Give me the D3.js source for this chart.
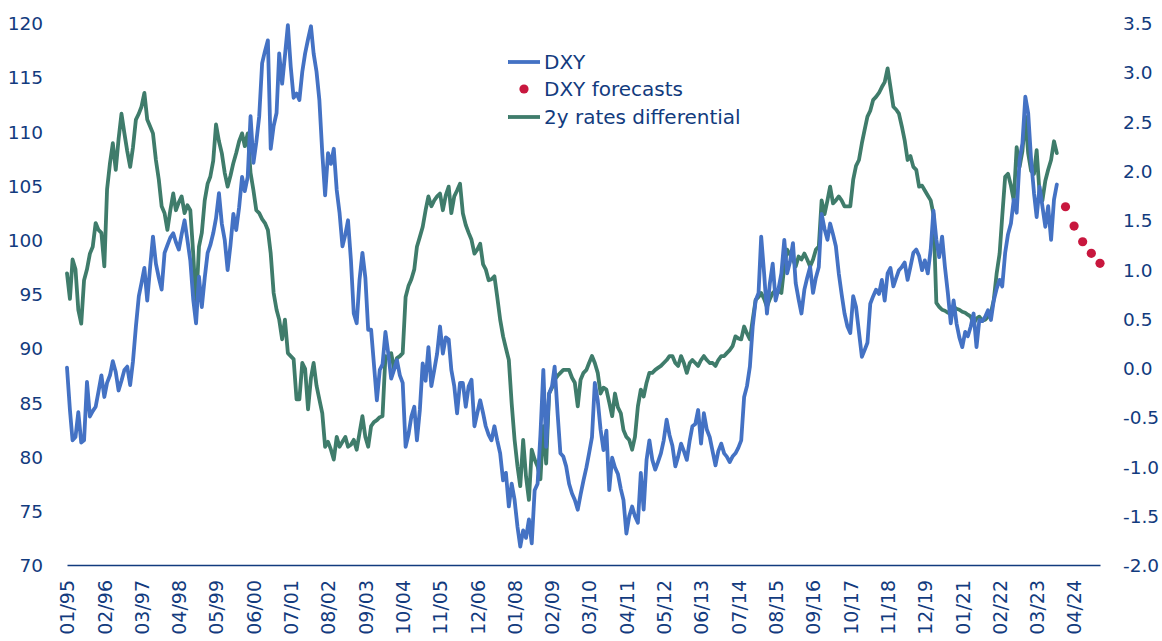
<!DOCTYPE html>
<html>
<head>
<meta charset="utf-8">
<script src="https://cdn.jsdelivr.net/npm/d3@7"></script>
<style>
  html, body { margin: 0; padding: 0; background: #ffffff; }
  svg { display: block; }
  text { font-family: "DejaVu Sans", sans-serif; fill: #123B7E; }
</style>
</head>
<body>
<svg id="chart" width="1162" height="641"></svg>
<script>
// ---- Data (monthly, starting Jan 1995) ----
const startYear = 1995;
const dxy = [
  88.2,84.3,81.5,81.8,84.1,81.3,81.5,86.9,83.7,84.2,84.6,86.0,
  87.5,85.5,86.8,87.5,88.8,87.8,86.1,87.0,88.0,88.3,86.6,88.8,
  92.0,94.8,96.0,97.4,94.4,97.5,100.3,97.8,96.5,95.4,98.8,99.5,
  100.2,100.6,99.8,99.1,100.5,101.8,100.0,98.1,94.5,92.3,96.6,93.8,
  96.5,98.8,99.5,100.6,102.0,104.3,101.5,100.0,97.2,99.5,102.4,100.9,
  103.0,105.8,104.5,105.8,111.4,107.1,109.0,111.4,116.3,117.4,118.4,108.4,
  110.5,111.7,117.2,114.4,117.0,119.8,116.0,113.1,113.5,112.9,115.5,117.2,
  118.5,119.7,117.2,115.5,112.9,108.0,104.1,108.0,107.0,108.4,104.6,102.5,
  99.4,100.5,101.8,98.1,93.2,92.3,96.3,98.8,96.5,91.7,91.7,88.5,
  85.2,88.0,88.5,91.5,89.5,87.2,88.0,88.9,87.5,86.8,80.9,82.0,
  83.7,84.6,81.5,84.3,88.6,87.0,90.1,86.5,88.0,89.5,92.0,89.5,
  91.0,90.8,88.0,86.5,84.0,86.8,86.8,84.6,86.5,87.1,82.8,84.0,
  85.2,84.0,82.8,82.0,81.5,82.8,81.5,80.3,77.8,78.5,75.4,77.5,
  76.0,73.5,71.7,73.2,72.5,74.2,72.0,76.9,77.5,82.0,88.0,80.9,
  85.8,86.5,88.3,84.0,80.3,80.0,79.1,77.5,76.6,76.0,75.1,76.5,
  77.8,79.0,80.3,81.8,86.8,85.2,82.5,80.6,82.4,76.9,79.9,79.0,
  78.4,77.0,76.0,72.9,74.5,75.4,74.5,73.9,78.5,75.1,79.7,81.5,
  79.7,78.8,79.5,80.3,81.5,83.4,82.0,81.0,79.1,80.0,81.2,80.5,
  79.7,81.5,82.8,83.0,84.3,81.2,84.0,82.5,81.8,80.5,79.2,80.5,
  81.2,80.3,80.0,79.5,80.0,80.3,80.8,81.5,85.5,86.5,88.3,92.0,
  94.4,95.1,100.3,96.9,93.2,96.0,97.8,94.4,95.5,96.9,100.0,96.9,
  98.0,99.7,96.0,94.5,93.2,95.4,96.5,97.5,95.1,96.5,97.5,102.4,
  101.0,100.0,101.5,100.5,99.4,96.9,95.0,93.2,92.0,91.4,94.8,93.8,
  91.5,89.2,89.8,90.5,94.1,94.8,95.4,95.0,96.3,94.4,96.9,97.4,
  95.7,96.5,97.2,97.5,97.9,96.3,97.5,98.8,99.1,98.5,97.2,98.1,
  96.9,99.1,102.7,100.0,98.4,100.3,97.5,95.1,92.3,94.4,92.3,91.0,
  90.1,91.5,91.1,92.0,93.2,90.1,92.6,92.5,92.9,93.5,92.6,94.4,
  95.5,96.3,95.7,98.8,100.5,101.5,103.7,102.5,107.4,108.9,113.2,111.7,
  107.4,104.3,102.1,104.9,103.1,101.2,103.1,100.0,103.7,105.1
];
const rateDiff = [
  0.96,0.70,1.10,1.00,0.59,0.45,0.89,1.00,1.16,1.23,1.47,1.40,
  1.37,1.03,1.81,2.08,2.28,2.01,2.32,2.58,2.38,2.20,2.04,2.24,
  2.52,2.58,2.65,2.79,2.52,2.45,2.38,2.11,1.91,1.64,1.57,1.40,
  1.60,1.77,1.60,1.68,1.74,1.57,1.65,1.60,1.16,0.62,1.23,1.37,
  1.70,1.87,1.94,2.10,2.47,2.30,2.18,1.98,1.84,1.95,2.08,2.18,
  2.30,2.38,2.25,2.38,1.98,1.80,1.60,1.57,1.51,1.47,1.40,1.16,
  0.76,0.59,0.49,0.29,0.49,0.15,0.12,0.09,-0.32,-0.32,0.05,-0.01,
  -0.42,-0.10,0.05,-0.18,-0.32,-0.46,-0.80,-0.75,-0.83,-0.93,-0.70,-0.80,
  -0.75,-0.70,-0.80,-0.78,-0.73,-0.83,-0.66,-0.49,-0.70,-0.80,-0.59,-0.55,
  -0.53,-0.50,-0.49,0.12,0.10,0.15,-0.01,0.10,0.12,0.15,0.72,0.83,
  0.90,1.00,1.23,1.33,1.43,1.60,1.74,1.64,1.70,1.74,1.77,1.60,
  1.75,1.84,1.57,1.74,1.80,1.87,1.57,1.45,1.37,1.30,1.16,1.20,
  1.26,1.05,1.00,0.89,0.90,0.93,0.72,0.49,0.32,0.20,0.08,-0.36,
  -0.73,-1.00,-1.20,-0.73,-1.10,-1.34,-0.83,-0.93,-1.00,-1.13,-0.59,-0.97,
  -0.26,-0.20,-0.12,-0.08,-0.05,-0.02,-0.02,-0.02,-0.10,-0.15,-0.39,-0.12,
  -0.05,-0.02,0.05,0.12,0.05,-0.05,-0.26,-0.20,-0.22,-0.35,-0.49,-0.26,
  -0.40,-0.46,-0.63,-0.70,-0.73,-0.83,-0.70,-0.39,-0.22,-0.29,-0.15,-0.05,
  -0.05,-0.02,0.00,0.02,0.05,0.08,0.12,0.12,0.05,0.02,0.12,0.05,
  -0.05,0.05,0.08,0.05,0.02,0.08,0.12,0.08,0.05,0.05,0.02,0.08,
  0.12,0.12,0.15,0.18,0.22,0.32,0.30,0.29,0.42,0.35,0.29,0.49,
  0.69,0.72,0.76,0.70,0.62,0.70,0.76,0.79,0.78,0.76,1.03,1.20,
  1.15,1.10,1.03,1.13,1.10,1.16,1.10,1.03,1.10,1.20,1.23,1.70,
  1.56,1.70,1.84,1.67,1.70,1.74,1.70,1.64,1.64,1.64,1.91,2.05,
  2.11,2.28,2.41,2.55,2.61,2.72,2.75,2.79,2.85,2.90,3.04,2.85,
  2.65,2.62,2.58,2.45,2.31,2.11,2.15,2.04,2.01,1.84,1.85,1.80,
  1.75,1.70,1.56,0.66,0.62,0.59,0.58,0.56,0.58,0.62,0.60,0.59,
  0.57,0.56,0.54,0.52,0.45,0.50,0.52,0.48,0.49,0.52,0.56,0.69,
  0.96,1.16,1.54,1.94,1.97,1.85,1.70,2.24,2.04,2.20,2.55,2.18,
  2.00,1.97,2.21,1.77,1.70,1.90,2.01,2.11,2.30,2.18
];
const forecastDates = ["2024-01","2024-04","2024-07","2024-10","2025-01"];
const forecastValues = [103.05, 101.27, 99.82, 98.75, 97.83];
const leftTicks = [70,75,80,85,90,95,100,105,110,115,120];
const rightTicks = [-2.0,-1.5,-1.0,-0.5,0.0,0.5,1.0,1.5,2.0,2.5,3.0,3.5];
const legendLabels = ["DXY", "DXY forecasts", "2y rates differential"];

// ---- Layout ----
const plot = { left: 67, right: 1100, top: 23, bottom: 565 };
const BLUE = "#4472C4", GREEN = "#3F7C6B", RED = "#C8173E", NAVY = "#123B7E";

const svg = d3.select("#chart");
const parseMonth = d3.timeParse("%Y-%m");

const x = d3.scaleTime()
  .domain([new Date(1995, 0, 1), new Date(2025, 0, 1)])
  .range([plot.left, plot.right]);
const yL = d3.scaleLinear().domain([70, 120]).range([plot.bottom, plot.top]);
const yR = d3.scaleLinear().domain([-2, 3.5]).range([plot.bottom, plot.top]);

const monthDate = i => new Date(startYear, i, 1);
const dxyData = dxy.map((v, i) => ({ d: monthDate(i), v }));
const diffData = rateDiff.map((v, i) => ({ d: monthDate(i), v }));
const fcData = forecastDates.map((s, i) => ({ d: parseMonth(s), v: forecastValues[i] }));

// ---- Axes ----
const leftAxis = d3.axisLeft(yL).tickValues(leftTicks).tickSize(0).tickPadding(24)
  .tickFormat(d => String(d));
const gL = svg.append("g").attr("transform", `translate(${plot.left},0)`).call(leftAxis);
gL.select(".domain").remove();
gL.selectAll("text").style("font-size", "18.5px").attr("fill", NAVY).attr("dy", "0.36em");

const rightAxis = d3.axisRight(yR).tickValues(rightTicks).tickSize(0).tickPadding(23)
  .tickFormat(d => d.toFixed(1));
const gR = svg.append("g").attr("transform", `translate(${plot.right},0)`).call(rightAxis);
gR.select(".domain").remove();
gR.selectAll("text").style("font-size", "18.5px").attr("fill", NAVY).attr("dy", "0.36em");

const xTicks = d3.range(0, 360, 13).map(monthDate);
const bottomAxis = d3.axisBottom(x).tickValues(xTicks).tickSize(0).tickFormat(d3.timeFormat("%m/%y"));
const gB = svg.append("g").attr("transform", `translate(0,${plot.bottom})`).call(bottomAxis);
gB.select(".domain").attr("stroke", NAVY).attr("stroke-width", 1.5);
gB.selectAll("text")
  .style("font-size", "19px")
  .attr("fill", NAVY)
  .attr("text-anchor", "end")
  .attr("transform", "rotate(-90)")
  .attr("x", -15)
  .attr("y", 0)
  .attr("dy", "0.36em");

// ---- Lines ----
const lineL = d3.line().x(d => x(d.d)).y(d => yL(d.v));
const lineR = d3.line().x(d => x(d.d)).y(d => yR(d.v));

svg.append("path").datum(diffData)
  .attr("fill", "none").attr("stroke", GREEN).attr("stroke-width", 3.8)
  .attr("stroke-linejoin", "round").attr("stroke-linecap", "round")
  .attr("d", lineR);

svg.append("path").datum(dxyData)
  .attr("fill", "none").attr("stroke", BLUE).attr("stroke-width", 3.8)
  .attr("stroke-linejoin", "round").attr("stroke-linecap", "round")
  .attr("d", lineL);

svg.append("g").selectAll("circle").data(fcData).join("circle")
  .attr("cx", d => x(d.d)).attr("cy", d => yL(d.v)).attr("r", 4.6)
  .attr("fill", RED);

// ---- Legend ----
const lg = svg.append("g").attr("transform", "translate(508,0)");
const rows = [
  { type: "line", color: BLUE, y: 62 },
  { type: "dot", color: RED, y: 89 },
  { type: "line", color: GREEN, y: 117 }
];
rows.forEach((r, i) => {
  if (r.type === "line") {
    lg.append("line").attr("x1", 0).attr("x2", 32).attr("y1", r.y).attr("y2", r.y)
      .attr("stroke", r.color).attr("stroke-width", 3.8);
  } else {
    lg.append("circle").attr("cx", 16).attr("cy", r.y).attr("r", 4.6).attr("fill", r.color);
  }
  lg.append("text").attr("x", 36).attr("y", r.y).attr("dy", "0.35em")
    .style("font-size", "20px").attr("fill", NAVY).text(legendLabels[i]);
});
</script>
</body>
</html>
